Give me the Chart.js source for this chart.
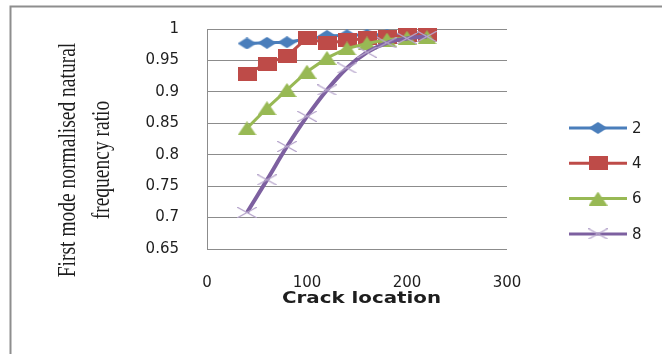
<!DOCTYPE html>
<html>
<head>
<meta charset="utf-8">
<script src="https://cdn.jsdelivr.net/npm/chart.js@4.4.1/dist/chart.umd.min.js"></script>
<style>
  html, body { margin: 0; padding: 0; background: #ffffff; }
  #wrap { width: 662px; height: 354px; position: relative; overflow: hidden; }
  canvas { display: block; }
</style>
</head>
<body>
<div id="wrap"><canvas id="chart" width="662" height="354"></canvas></div>
<script>
// Crack positions along the beam and first-mode frequency ratios per crack depth series
const crackLocations = [40, 60, 80, 100, 120, 140, 160, 180, 200, 220];
const seriesNames = ['2', '4', '6', '8'];
const ratio2 = [0.977, 0.978, 0.979, 0.984, 0.989, 0.990, 0.991, 0.991, 0.992, 0.992];
const ratio4 = [0.929, 0.945, 0.957, 0.986, 0.977, 0.982, 0.985, 0.987, 0.990, 0.990];
const ratio6 = [0.842, 0.874, 0.903, 0.932, 0.954, 0.969, 0.977, 0.983, 0.986, 0.987];
const ratio8 = [0.708, 0.760, 0.813, 0.861, 0.903, 0.938, 0.963, 0.978, 0.985, 0.988];
const yTickValues = [0.65, 0.7, 0.75, 0.8, 0.85, 0.9, 0.95, 1];
const xTickValues = [0, 100, 200, 300];
const yTitleLines = ['First mode normalised natural', 'frequency ratio'];
const xTitleText = 'Crack location';

const COLORS = {
  blue: '#4A7EBB',
  red: '#BE4B48',
  green: '#98B954',
  purple: '#7D60A0',
  purpleMark: '#B7A6CC'
};

// Marker bitmaps (slightly wider than tall, like the office-style markers)
function makeMarker(kind, w, h, fill) {
  const c = document.createElement('canvas');
  c.width = w; c.height = h;
  const g = c.getContext('2d');
  g.fillStyle = fill;
  g.strokeStyle = fill;
  g.beginPath();
  if (kind === 'diamond') {
    g.moveTo(w / 2, 0); g.lineTo(w, h / 2); g.lineTo(w / 2, h); g.lineTo(0, h / 2);
    g.closePath(); g.fill();
  } else if (kind === 'square') {
    g.fillRect(0, 0, w, h);
  } else if (kind === 'triangle') {
    g.moveTo(w / 2, 0); g.lineTo(w, h); g.lineTo(0, h);
    g.closePath(); g.fill();
  } else if (kind === 'cross') {
    g.lineWidth = 1.2;
    g.moveTo(0, 0); g.lineTo(w, h);
    g.moveTo(w, 0); g.lineTo(0, h);
    g.stroke();
  }
  return c;
}

const markers = [
  makeMarker('diamond', 19, 12, COLORS.blue),
  makeMarker('square', 19, 14, COLORS.red),
  makeMarker('triangle', 19, 14, COLORS.green),
  makeMarker('cross', 20, 11, COLORS.purpleMark)
];

function toPoints(values) {
  return crackLocations.map((x, i) => ({ x: x, y: values[i] }));
}

const seriesValues = [ratio2, ratio4, ratio6, ratio8];
const lineColors = [COLORS.blue, COLORS.red, COLORS.green, COLORS.purple];
const lineWidths = [3, 3, 3, 4];
const tensions = [0, 0, 0, 0.4];

const datasets = seriesNames.map((name, i) => ({
  label: name,
  data: toPoints(seriesValues[i]),
  borderColor: lineColors[i],
  backgroundColor: lineColors[i],
  borderWidth: lineWidths[i],
  tension: tensions[i],
  pointStyle: markers[i],
  pointRadius: 9,
  pointHoverRadius: 9,
  pointBorderWidth: 0,
  fill: false,
  clip: false,
  order: seriesNames.length - i
}));

const TEXT = '#1e1e1e';
const GRID = '#8c8c8c';

// Outer frame, axis titles and the line-plus-marker legend
const decorations = {
  id: 'decorations',
  beforeDraw(chart) {
    const ctx = chart.ctx;
    ctx.save();
    ctx.fillStyle = '#ffffff';
    ctx.fillRect(0, 0, chart.width, chart.height);
    ctx.strokeStyle = '#8e8e8e';
    ctx.lineWidth = 2;
    ctx.beginPath();
    ctx.moveTo(10.5, chart.height);
    ctx.lineTo(10.5, 6.5);
    ctx.lineTo(chart.width, 6.5);
    ctx.stroke();
    ctx.restore();
  },
  afterDraw(chart) {
    const ctx = chart.ctx;
    ctx.save();
    ctx.fillStyle = TEXT;

    // y-axis title, two rotated serif lines
    ctx.font = '19.5px "Liberation Serif", "Times New Roman", serif';
    ctx.textAlign = 'center';
    ctx.textBaseline = 'middle';
    const titleX = [69, 103];
    yTitleLines.forEach((line, i) => {
      ctx.save();
      ctx.translate(titleX[i], 160);
      ctx.rotate(-Math.PI / 2);
      ctx.scale(1, 1.25);
      ctx.fillText(line, 0, 0);
      ctx.restore();
    });

    // x-axis title
    ctx.font = 'bold 16px "DejaVu Sans", sans-serif';
    const w = ctx.measureText(xTitleText).width;
    ctx.save();
    ctx.translate(361.5, 299);
    ctx.scale(159 / w, 1);
    ctx.fillText(xTitleText, 0, 0);
    ctx.restore();

    // legend
    ctx.font = '15px "DejaVu Sans", sans-serif';
    ctx.textAlign = 'left';
    chart.data.datasets.forEach((ds, i) => {
      const y = 128 + i * 35.3;
      ctx.strokeStyle = ds.borderColor;
      ctx.lineWidth = 3;
      ctx.beginPath();
      ctx.moveTo(569, y);
      ctx.lineTo(627, y);
      ctx.stroke();
      const m = ds.pointStyle;
      ctx.drawImage(m, 598 - m.width / 2, y - m.height / 2);
      ctx.fillStyle = TEXT;
      ctx.fillText(ds.label, 632, y + 1);
    });
    ctx.restore();
  }
};

new Chart(document.getElementById('chart'), {
  type: 'line',
  data: { datasets: datasets },
  options: {
    responsive: false,
    animation: false,
    events: [],
    layout: { padding: { left: 0, right: 155, top: 29, bottom: 0 } },
    plugins: {
      legend: { display: false },
      tooltip: { enabled: false }
    },
    scales: {
      x: {
        type: 'linear',
        min: 0,
        max: 300,
        afterFit(scale) { scale.height = 105; },
        afterBuildTicks(scale) { scale.ticks = xTickValues.map(v => ({ value: v })); },
        grid: { display: false, drawTicks: false },
        border: { display: false },
        ticks: {
          padding: 25,
          color: TEXT,
          font: { family: '"DejaVu Sans", sans-serif', size: 15 },
          maxRotation: 0,
          callback: v => String(v)
        }
      },
      y: {
        type: 'linear',
        min: 0.65,
        max: 1,
        afterFit(scale) {
          scale.width = 207;
          scale.paddingTop = 0;
          scale.paddingBottom = 0;
        },
        afterBuildTicks(scale) { scale.ticks = yTickValues.map(v => ({ value: v })); },
        grid: { color: GRID, lineWidth: 1, drawTicks: false },
        border: { display: true, color: GRID, width: 1 },
        ticks: {
          padding: 28,
          color: TEXT,
          font: { family: '"DejaVu Sans", sans-serif', size: 15 },
          callback: v => String(parseFloat(Number(v).toFixed(2)))
        }
      }
    }
  },
  plugins: [decorations]
});
</script>
</body>
</html>
